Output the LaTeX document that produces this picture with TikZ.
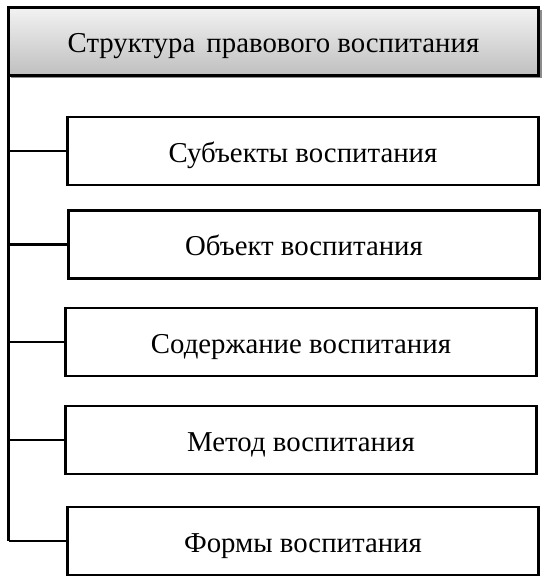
\documentclass[tikz,border=0pt]{standalone}
\usepackage{fontspec}
\setmainfont{Liberation Serif}
\usetikzlibrary{shadows}
\tikzset{
  part/.style={draw, line width=2.2pt, fill=white, minimum width=353pt, minimum height=51pt,
    inner sep=0pt, text height=16.5pt, text depth=0pt, font=\fontsize{21.6}{25}\selectfont},
  head/.style={part, minimum width=398pt, top color=gray!10, bottom color=gray!50,
    drop shadow={shadow xshift=2pt, shadow yshift=-2pt, fill=black, opacity=.45}},
  link/.style={line width=2.2pt}
}
\begin{document}
\begin{tikzpicture}[x=0.75pt,y=-0.75pt]
\useasboundingbox (0,0) rectangle (549,578);
\node[head] (top) at (273.5,41.5) {Структура\hspace{3pt} правового воспитания};
\node[part] (subj) at (303,151) {Субъекты воспитания};
\node[part] (obj) at (304,244.5) {Объект воспитания};
\node[part] (cont) at (301,342) {Содержание воспитания};
\node[part] (meth) at (301,440) {Метод воспитания};
\node[part] (form) at (303,541) {Формы воспитания};
\coordinate (trunk) at (8.5,0);
\draw[link] (top.south -| trunk) -- (form.west -| trunk);
\foreach \n in {subj,obj,cont,meth,form}
  \draw[link] (\n.west -| trunk) -- (\n.west);
\end{tikzpicture}
\end{document}
